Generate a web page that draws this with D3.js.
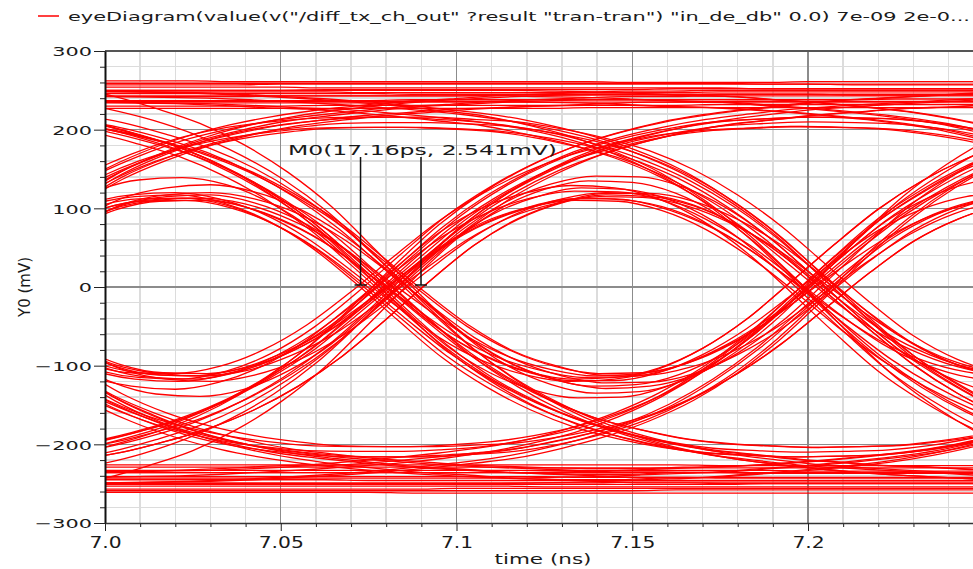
<!DOCTYPE html>
<html><head><meta charset="utf-8">
<script src="https://cdn.jsdelivr.net/npm/d3@7"></script>
<style>body{margin:0;background:#fff;}svg{display:block;}</style>
</head><body>
<svg id="chart" width="973" height="569"></svg>
<script>
// ---------------- DATA ----------------
const legendLabel = 'eyeDiagram(value(v("/diff_tx_ch_out" ?result "tran-tran") "in_de_db" 0.0) 7e-09 2e-0...';
const xTitle = "time (ns)";
const yTitle = "Y0 (mV)";
const xTickValues = [7.0, 7.05, 7.1, 7.15, 7.2];
const xTickLabels = ["7.0", "7.05", "7.1", "7.15", "7.2"];
const yTickValues = [-300, -200, -100, 0, 100, 200, 300];
const yTickLabels = ["\u2212300", "\u2212200", "\u2212100", "0", "100", "200", "300"];
const markerTimes = [7.0727, 7.0899];
const markerValue = 2.541;
const markerLabel = "M0(17.16ps, 2.541mV)";

// sample times (ns) shared by every trace
const timesNs = [6.9875,7.0,7.0125,7.025,7.0375,7.05,7.0625,7.075,7.0875,7.1,7.1125,7.125,7.1375,7.15,7.1625,7.175,7.1875,7.2,7.2125,7.225,7.2375,7.25,7.2625];

// traces that are high in the middle bit (mV)
const tracesHigh = [
[250,250,250,250,250,250,250,250,250,250,250,249,248,246,244,242,238,234,229,223,214,202,186],
[236,236,236,236,236,236,236,236,236,236,236,235,234,232,230,228,225,221,216,210,202,190,176],
[250,249,248,247,245,242,239,235,230,224,217,205,190,170,144,109,65,13,-41,-89,-128,-159,-182],
[236,235,234,233,231,228,226,222,217,211,204,194,179,160,135,102,61,12,-38,-84,-120,-150,-171],
[250,249,248,247,245,242,239,235,230,224,217,206,192,174,150,117,77,29,-19,-62,-92,-110,-118],
[236,235,234,233,231,228,226,222,217,211,205,194,181,164,141,110,72,27,-18,-58,-86,-104,-111],
[110,145,171,191,206,217,225,231,236,239,243,245,247,249,249,250,250,250,250,250,250,250,250],
[104,137,161,180,194,205,212,218,222,226,229,231,233,235,235,236,236,236,236,236,236,236,236],
[110,145,171,191,206,217,225,231,236,239,242,244,245,245,243,242,238,234,229,223,214,202,186],
[104,137,161,180,194,205,212,218,222,226,228,230,231,231,229,228,225,221,216,210,202,190,176],
[110,144,169,188,201,209,214,216,216,213,209,200,187,169,143,109,65,13,-41,-89,-128,-159,-182],
[103,136,160,177,189,197,202,203,203,201,197,189,177,159,135,102,61,12,-38,-84,-120,-150,-171],
[110,144,169,188,201,209,214,216,216,213,210,201,189,173,149,117,77,29,-19,-62,-92,-110,-118],
[103,136,160,177,189,197,202,203,203,201,198,190,178,163,140,110,72,27,-18,-58,-86,-104,-111],
[-219,-209,-194,-176,-151,-118,-77,-26,28,79,120,152,177,195,209,219,226,232,237,240,243,246,248],
[-206,-197,-183,-166,-142,-111,-72,-24,26,74,113,143,167,184,197,207,213,219,223,227,229,232,234],
[-219,-209,-194,-176,-151,-118,-77,-26,28,79,119,151,175,191,203,211,214,216,215,213,207,197,184],
[-206,-197,-183,-166,-142,-111,-72,-24,26,74,112,142,165,180,192,199,202,204,203,201,195,186,173],
[-219,-210,-196,-179,-156,-126,-88,-41,8,53,86,107,117,115,103,78,41,-6,-54,-99,-135,-163,-184],
[-207,-198,-185,-169,-147,-118,-83,-38,8,50,81,101,110,109,97,73,38,-5,-51,-93,-127,-154,-174],
[-254,-243,-227,-208,-181,-146,-102,-47,9,61,100,124,135,133,119,90,47,-6,-63,-115,-156,-189,-213],
[-219,-210,-196,-179,-156,-126,-88,-41,8,53,87,108,119,119,109,86,53,11,-33,-72,-99,-115,-120],
[-207,-198,-185,-169,-147,-118,-83,-38,8,50,82,101,112,112,102,81,50,10,-31,-67,-93,-108,-113],
[-79,-104,-115,-117,-107,-85,-51,-6,43,90,127,157,180,197,210,219,226,232,237,240,243,246,248],
[-74,-98,-109,-110,-101,-80,-48,-6,40,84,120,148,169,185,198,207,213,219,223,227,229,232,234],
[-79,-104,-115,-117,-107,-85,-51,-6,43,90,127,156,178,193,204,211,214,216,215,213,207,197,184],
[-74,-98,-109,-110,-101,-80,-48,-6,40,84,119,147,168,182,193,199,202,204,203,201,195,186,173],
[-79,-105,-117,-120,-112,-93,-62,-21,23,64,94,112,120,117,104,78,41,-6,-54,-99,-135,-163,-184],
[-75,-99,-110,-113,-106,-87,-59,-20,21,60,88,105,113,110,98,73,38,-5,-51,-93,-127,-154,-174],
[-79,-105,-117,-120,-112,-93,-62,-21,23,64,94,113,122,121,110,86,53,11,-33,-72,-99,-115,-120],
[-75,-99,-110,-113,-106,-87,-59,-20,21,60,89,106,115,114,103,81,50,10,-31,-67,-93,-108,-113],
[-92,-121,-136,-139,-130,-107,-72,-24,26,74,109,131,141,140,127,100,61,12,-38,-83,-114,-133,-139],
[243,243,243,243,243,243,243,243,243,243,243,242,241,239,237,235,231,227,222,216,208,196,181],
[243,242,241,240,238,235,232,228,224,218,210,199,185,165,139,105,63,12,-39,-87,-124,-154,-176],
[107,141,166,186,200,211,218,224,229,232,236,238,240,242,242,243,243,243,243,243,243,243,243],
[107,141,166,186,200,211,218,224,229,232,235,237,238,238,236,235,231,227,222,216,208,196,181],
[106,140,164,182,195,203,208,209,209,207,203,194,182,164,139,105,63,12,-39,-87,-124,-154,-176],
[-212,-203,-189,-171,-146,-114,-74,-25,27,76,116,147,172,190,203,213,220,226,230,233,236,239,241],
[-212,-203,-189,-171,-146,-114,-74,-25,27,76,116,146,170,186,197,205,208,210,209,207,201,191,178],
[-237,-226,-212,-193,-168,-136,-95,-44,9,57,93,115,126,124,111,84,44,-6,-58,-107,-145,-176,-199],
[-76,-101,-112,-113,-104,-82,-50,-6,41,87,123,152,174,191,204,213,220,226,230,233,236,239,241],
[-85,-113,-126,-130,-121,-100,-67,-23,24,69,101,120,129,126,112,84,44,-6,-58,-107,-145,-176,-199]
];
const jitterHigh = [0.003,-0.003,-0.004,0.004,0.001,-0.005,-0.002,0.005,0.004,-0.001,-0.005,0.002,0.005,-0.003,-0.005,0.003,0.002,-0.002,0.005,-0.004,0.000,0.005,-0.005,-0.003,0.004,0.001,-0.005,0.005,-0.001,-0.004,0.003,0.002,
  -0.001,0.004,-0.003,0.002,0.005,-0.004,0.001,-0.002,0.003,-0.005];

// traces that are low in the middle bit (mV)
const tracesLow = [
[-250,-250,-250,-250,-250,-250,-250,-250,-250,-250,-250,-249,-248,-246,-244,-242,-238,-234,-229,-223,-214,-202,-186],
[-236,-236,-236,-236,-236,-236,-236,-236,-236,-236,-236,-235,-234,-232,-230,-228,-225,-221,-216,-210,-202,-190,-176],
[-250,-249,-248,-247,-245,-242,-239,-235,-230,-224,-217,-205,-190,-170,-144,-109,-65,-13,41,89,128,159,182],
[-236,-235,-234,-233,-231,-228,-226,-222,-217,-211,-204,-194,-179,-160,-135,-102,-61,-12,38,84,120,150,171],
[-250,-249,-248,-247,-245,-242,-239,-235,-230,-224,-217,-206,-192,-174,-150,-117,-77,-29,19,62,92,110,118],
[-236,-235,-234,-233,-231,-228,-226,-222,-217,-211,-205,-194,-181,-164,-141,-110,-72,-27,18,58,86,104,111],
[-110,-145,-171,-191,-206,-217,-225,-231,-236,-239,-243,-245,-247,-249,-249,-250,-250,-250,-250,-250,-250,-250,-250],
[-104,-137,-161,-180,-194,-205,-212,-218,-222,-226,-229,-231,-233,-235,-235,-236,-236,-236,-236,-236,-236,-236,-236],
[-110,-145,-171,-191,-206,-217,-225,-231,-236,-239,-242,-244,-245,-245,-243,-242,-238,-234,-229,-223,-214,-202,-186],
[-104,-137,-161,-180,-194,-205,-212,-218,-222,-226,-228,-230,-231,-231,-229,-228,-225,-221,-216,-210,-202,-190,-176],
[-110,-144,-169,-188,-201,-209,-214,-216,-216,-213,-209,-200,-187,-169,-143,-109,-65,-13,41,89,128,159,182],
[-103,-136,-160,-177,-189,-197,-202,-203,-203,-201,-197,-189,-177,-159,-135,-102,-61,-12,38,84,120,150,171],
[-110,-144,-169,-188,-201,-209,-214,-216,-216,-213,-210,-201,-189,-173,-149,-117,-77,-29,19,62,92,110,118],
[-103,-136,-160,-177,-189,-197,-202,-203,-203,-201,-198,-190,-178,-163,-140,-110,-72,-27,18,58,86,104,111],
[219,209,194,176,151,118,77,26,-28,-79,-120,-152,-177,-195,-209,-219,-226,-232,-237,-240,-243,-246,-248],
[206,197,183,166,142,111,72,24,-26,-74,-113,-143,-167,-184,-197,-207,-213,-219,-223,-227,-229,-232,-234],
[219,209,194,176,151,118,77,26,-28,-79,-119,-151,-175,-191,-203,-211,-214,-216,-215,-213,-207,-197,-184],
[206,197,183,166,142,111,72,24,-26,-74,-112,-142,-165,-180,-192,-199,-202,-204,-203,-201,-195,-186,-173],
[219,210,196,179,156,126,88,41,-8,-53,-86,-107,-117,-115,-103,-78,-41,6,54,99,135,163,184],
[207,198,185,169,147,118,83,38,-8,-50,-81,-101,-110,-109,-97,-73,-38,5,51,93,127,154,174],
[254,243,227,208,181,146,102,47,-9,-61,-100,-124,-135,-133,-119,-90,-47,6,63,115,156,189,213],
[219,210,196,179,156,126,88,41,-8,-53,-87,-108,-119,-119,-109,-86,-53,-11,33,72,99,115,120],
[207,198,185,169,147,118,83,38,-8,-50,-82,-101,-112,-112,-102,-81,-50,-10,31,67,93,108,113],
[79,104,115,117,107,85,51,6,-43,-90,-127,-157,-180,-197,-210,-219,-226,-232,-237,-240,-243,-246,-248],
[74,98,109,110,101,80,48,6,-40,-84,-120,-148,-169,-185,-198,-207,-213,-219,-223,-227,-229,-232,-234],
[79,104,115,117,107,85,51,6,-43,-90,-127,-156,-178,-193,-204,-211,-214,-216,-215,-213,-207,-197,-184],
[74,98,109,110,101,80,48,6,-40,-84,-119,-147,-168,-182,-193,-199,-202,-204,-203,-201,-195,-186,-173],
[79,105,117,120,112,93,62,21,-23,-64,-94,-112,-120,-117,-104,-78,-41,6,54,99,135,163,184],
[75,99,110,113,106,87,59,20,-21,-60,-88,-105,-113,-110,-98,-73,-38,5,51,93,127,154,174],
[79,105,117,120,112,93,62,21,-23,-64,-94,-113,-122,-121,-110,-86,-53,-11,33,72,99,115,120],
[75,99,110,113,106,87,59,20,-21,-60,-89,-106,-115,-114,-103,-81,-50,-10,31,67,93,108,113],
[92,121,136,139,130,107,72,24,-26,-74,-109,-131,-141,-140,-127,-100,-61,-12,38,83,114,133,139],
[-243,-243,-243,-243,-243,-243,-243,-243,-243,-243,-243,-242,-241,-239,-237,-235,-231,-227,-222,-216,-208,-196,-181],
[-243,-242,-241,-240,-238,-235,-232,-228,-224,-218,-210,-199,-185,-165,-139,-105,-63,-12,39,87,124,154,176],
[-107,-141,-166,-186,-200,-211,-218,-224,-229,-232,-236,-238,-240,-242,-242,-243,-243,-243,-243,-243,-243,-243,-243],
[-107,-141,-166,-186,-200,-211,-218,-224,-229,-232,-235,-237,-238,-238,-236,-235,-231,-227,-222,-216,-208,-196,-181],
[-106,-140,-164,-182,-195,-203,-208,-209,-209,-207,-203,-194,-182,-164,-139,-105,-63,-12,39,87,124,154,176],
[212,203,189,171,146,114,74,25,-27,-76,-116,-147,-172,-190,-203,-213,-220,-226,-230,-233,-236,-239,-241],
[212,203,189,171,146,114,74,25,-27,-76,-116,-146,-170,-186,-197,-205,-208,-210,-209,-207,-201,-191,-178],
[237,226,212,193,168,136,95,44,-9,-57,-93,-115,-126,-124,-111,-84,-44,6,58,107,145,176,199],
[76,101,112,113,104,82,50,6,-41,-87,-123,-152,-174,-191,-204,-213,-220,-226,-230,-233,-236,-239,-241],
[85,113,126,130,121,100,67,23,-24,-69,-101,-120,-129,-126,-112,-84,-44,6,58,107,145,176,199]
];
const jitterLow = [-0.002,0.004,0.005,-0.005,-0.001,0.005,0.003,-0.004,-0.005,0.002,0.004,-0.003,-0.002,0.005,0.005,-0.004,-0.003,0.001,-0.005,0.003,0.002,-0.005,0.004,0.005,-0.002,-0.004,0.003,-0.005,0.002,0.005,-0.001,-0.003,
  0.002,-0.004,0.003,-0.001,-0.005,0.004,-0.002,0.001,-0.003,0.005];

// long runs of identical bits (mV)
const flatHigh = [
[262,262,262,262,261,261,261,261,261,261,261,261,261,260,260,260,260,261,261,261,261,261,261],
[259,259,259,259,259,259,259,259,259,259,259,259,259,259,259,259,258,258,258,258,258,258,258],
[257,257,257,257,257,258,258,258,258,258,258,258,258,258,258,258,258,258,257,257,257,257,257],
[254,254,254,254,254,254,253,253,253,253,253,253,253,253,253,253,252,252,252,252,252,252,252],
[250,250,250,250,250,250,251,251,251,251,251,251,251,251,252,252,252,252,252,252,252,252,252],
[248,248,248,248,248,248,248,247,247,247,247,247,247,247,247,248,248,248,248,248,248,248,248],
[246,246,246,246,246,246,246,246,245,245,245,245,245,245,245,245,245,245,244,244,244,244,244],
[242,242,242,242,242,243,243,243,243,243,244,244,244,244,244,245,245,245,245,245,245,245,245],
[237,237,237,237,237,237,237,237,238,238,238,238,238,238,238,238,238,238,238,239,239,239,239],
[234,234,234,234,234,234,234,234,235,235,235,235,235,235,235,235,235,235,235,235,235,235,235],
[230,230,230,230,230,230,231,231,231,231,231,231,231,231,231,232,232,232,232,232,232,232,232],
[227,227,227,227,227,227,227,227,227,227,227,227,228,228,228,228,228,228,228,228,228,228,228]
];
const flatLow = [
[-261,-261,-261,-261,-261,-261,-261,-261,-262,-262,-262,-262,-262,-262,-262,-262,-262,-262,-262,-262,-262,-262,-262],
[-259,-259,-259,-259,-259,-259,-259,-259,-259,-259,-259,-259,-259,-259,-258,-258,-258,-258,-258,-258,-258,-258,-258],
[-257,-257,-257,-257,-257,-257,-257,-257,-257,-256,-256,-256,-256,-256,-256,-256,-256,-256,-256,-256,-256,-256,-256],
[-253,-253,-253,-253,-253,-253,-253,-253,-253,-253,-253,-254,-254,-254,-254,-254,-254,-254,-254,-254,-254,-254,-254],
[-251,-251,-251,-251,-251,-251,-251,-251,-251,-251,-251,-251,-251,-251,-251,-251,-250,-250,-250,-250,-250,-250,-250],
[-249,-249,-249,-249,-249,-249,-249,-249,-249,-249,-249,-249,-249,-248,-248,-248,-248,-248,-248,-248,-248,-248,-248],
[-245,-245,-245,-245,-245,-245,-245,-246,-246,-246,-246,-246,-246,-246,-246,-246,-246,-246,-246,-246,-246,-246,-246],
[-241,-241,-241,-241,-241,-241,-241,-241,-241,-241,-241,-241,-242,-242,-242,-242,-242,-242,-242,-242,-242,-242,-242],
[-236,-236,-236,-236,-236,-236,-236,-236,-236,-236,-236,-236,-236,-236,-236,-236,-237,-237,-237,-237,-237,-237,-237],
[-233,-233,-233,-233,-233,-233,-233,-233,-233,-233,-233,-233,-233,-233,-233,-233,-233,-234,-234,-234,-234,-234,-234],
[-229,-229,-229,-229,-229,-229,-229,-229,-229,-229,-229,-230,-230,-230,-230,-230,-230,-230,-230,-230,-230,-230,-230],
[-226,-226,-226,-226,-226,-226,-226,-226,-226,-226,-226,-226,-226,-226,-226,-227,-227,-227,-227,-227,-227,-227,-227]
];

// ---------------- CHART ----------------
const svg = d3.select("#chart");
const plot = {left: 105, right: 973, top: 51, bottom: 523};
const x = d3.scaleLinear().domain([7.0, 7.25]).range([105, 983.75]);
const y = d3.scaleLinear().domain([-300, 300]).range([523, 51]);
const FONT = "'DejaVu Sans', Verdana, sans-serif";
const TEXT = "#1a1a1a";

svg.append("rect").attr("width", 973).attr("height", 569).attr("fill", "#fff");

// grid
const grid = svg.append("g").attr("shape-rendering", "crispEdges");
const xMinor = d3.range(1, 25).filter(k => k % 5 !== 0).map(k => 7 + k * 0.01);
const yMinor = d3.range(-14, 15).filter(k => k % 5 !== 0).map(k => k * 20);
grid.selectAll(".vx").data(xMinor).join("line")
  .attr("x1", d => x(d)).attr("x2", d => x(d)).attr("y1", y(300)).attr("y2", y(-300))
  .attr("stroke", "#dcdcdc").attr("stroke-width", 1.5);
grid.selectAll(".hy").data(yMinor).join("line")
  .attr("x1", plot.left).attr("x2", plot.right).attr("y1", d => y(d)).attr("y2", d => y(d))
  .attr("stroke", "#dcdcdc").attr("stroke-width", 1.5);
grid.selectAll(".vX").data(xTickValues.slice(1)).join("line")
  .attr("x1", d => x(d)).attr("x2", d => x(d)).attr("y1", y(300)).attr("y2", y(-300))
  .attr("stroke", "#8c8c8c").attr("stroke-width", 1.3);
grid.selectAll(".hY").data(yTickValues.slice(1, -1)).join("line")
  .attr("x1", plot.left).attr("x2", plot.right).attr("y1", d => y(d)).attr("y2", d => y(d))
  .attr("stroke", "#8c8c8c").attr("stroke-width", 1.3);

// traces
svg.append("clipPath").attr("id", "clip").append("rect")
  .attr("x", plot.left).attr("y", plot.top).attr("width", plot.right - plot.left).attr("height", plot.bottom - plot.top);
const traceG = svg.append("g").attr("clip-path", "url(#clip)");
const line = d3.line().x(d => x(d[0])).y(d => y(d[1])).curve(d3.curveMonotoneX);
function drawTraces(list, shifts) {
  list.forEach((vals, k) => {
    const dt = shifts ? shifts[k] : 0;
    traceG.append("path")
      .attr("d", line(vals.map((v, i) => [timesNs[i] + dt, v])))
      .attr("fill", "none").attr("stroke", "#ff0000").attr("stroke-width", 1.3);
  });
}
drawTraces(flatHigh, null);
drawTraces(flatLow, null);
drawTraces(tracesHigh, jitterHigh);
drawTraces(tracesLow, jitterLow);

// top border
svg.append("line").attr("x1", plot.left).attr("x2", plot.right).attr("y1", y(300)).attr("y2", y(300))
  .attr("stroke", "#555").attr("stroke-width", 2);

// axes
function stretch(sel, k) {
  sel.each(function() {
    const w = this.getComputedTextLength();
    d3.select(this).attr("textLength", w * k).attr("lengthAdjust", "spacingAndGlyphs");
  });
}
const yAxisMinor = svg.append("g").attr("transform", `translate(${plot.left},0)`)
  .call(d3.axisLeft(y).tickValues(yMinor).tickSize(5).tickFormat(""));
yAxisMinor.select(".domain").remove();
const yAxisG = svg.append("g").attr("transform", `translate(${plot.left},0)`)
  .call(d3.axisLeft(y).tickValues(yTickValues).tickSize(11).tickSizeOuter(0).tickPadding(2)
    .tickFormat((d, i) => yTickLabels[i]));
yAxisG.select(".domain").attr("stroke", "#111").attr("stroke-width", 2);
yAxisG.selectAll("text").attr("font-family", FONT).attr("font-size", 13).attr("fill", TEXT).attr("dy", "0.36em");
stretch(yAxisG.selectAll("text"), 1.6);

const xAxisMinor = svg.append("g").attr("transform", `translate(0,${plot.bottom})`)
  .call(d3.axisBottom(x).tickValues(xMinor).tickSize(4).tickFormat(""));
xAxisMinor.select(".domain").remove();
const xAxisG = svg.append("g").attr("transform", `translate(0,${plot.bottom})`)
  .call(d3.axisBottom(x).tickValues(xTickValues).tickSize(8).tickSizeOuter(0)
    .tickFormat((d, i) => xTickLabels[i]));
xAxisG.select(".domain").attr("stroke", "#333").attr("stroke-width", 1.6);
xAxisG.selectAll("text").attr("font-family", FONT).attr("font-size", 15).attr("fill", TEXT)
  .attr("y", 25).attr("dy", 0);
stretch(xAxisG.selectAll("text"), 1.35);
svg.selectAll(".tick line").attr("stroke", "#222");

// axis titles
svg.append("text").attr("x", 543).attr("y", 564).attr("text-anchor", "middle")
  .attr("font-family", FONT).attr("font-size", 14).attr("fill", TEXT)
  .attr("textLength", 97).attr("lengthAdjust", "spacingAndGlyphs").text(xTitle);
svg.append("text").attr("transform", `translate(30,${y(0)}) rotate(-90)`).attr("text-anchor", "middle")
  .attr("font-family", FONT).attr("font-size", 15).attr("fill", TEXT)
  .attr("textLength", 60).attr("lengthAdjust", "spacingAndGlyphs").text(yTitle);

// legend
svg.append("line").attr("x1", 38).attr("x2", 59).attr("y1", 16).attr("y2", 16)
  .attr("stroke", "#ff0000").attr("stroke-width", 1.5);
svg.append("text").attr("x", 68).attr("y", 21).attr("font-family", FONT).attr("font-size", 13)
  .attr("fill", TEXT).attr("textLength", 902).attr("lengthAdjust", "spacingAndGlyphs").text(legendLabel);

// delta marker
const mk = svg.append("g");
markerTimes.forEach(t => {
  mk.append("line").attr("x1", x(t)).attr("x2", x(t)).attr("y1", 157).attr("y2", y(markerValue))
    .attr("stroke", "#111").attr("stroke-width", 1.5);
  mk.append("line").attr("x1", x(t) - 6).attr("x2", x(t) + 6).attr("y1", y(markerValue)).attr("y2", y(markerValue))
    .attr("stroke", "#111").attr("stroke-width", 1.5);
});
mk.append("text").attr("x", 288).attr("y", 155).attr("font-family", FONT).attr("font-size", 14)
  .attr("fill", TEXT).attr("textLength", 269).attr("lengthAdjust", "spacingAndGlyphs").text(markerLabel);
</script>
</body></html>
